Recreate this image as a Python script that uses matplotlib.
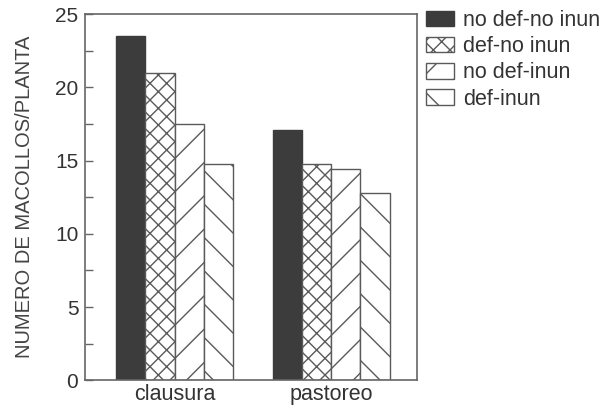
import matplotlib.pyplot as plt
import numpy as np

# datos
grupos = ['clausura', 'pastoreo']
tratamientos = ['no def-no inun', 'def-no inun', 'no def-inun', 'def-inun']
valores = [
    [23.5, 17.1],
    [21.0, 14.8],
    [17.5, 14.4],
    [14.8, 12.8],
]
rellenos = ['', 'xx', '/', '\\']
colores = ['#3c3c3c', 'white', 'white', 'white']

plt.rcParams['font.family'] = ['Liberation Sans', 'DejaVu Sans']
plt.rcParams['hatch.color'] = '#5a5a5a'
plt.rcParams['hatch.linewidth'] = 1.0

fig = plt.figure(figsize=(6.05, 4.08), dpi=100)
ax = fig.add_axes([0.141, 0.068, 0.549, 0.897])

x = np.arange(len(grupos))
ancho = 0.186
for i, (nombre, vals) in enumerate(zip(tratamientos, valores)):
    ax.bar(x + (i - 1.5) * ancho, vals, ancho, color=colores[i],
           edgecolor='#5a5a5a' if i else '#3c3c3c', linewidth=1.0,
           hatch=rellenos[i], label=nombre)

ax.set_xlim(-0.57, 1.55)
ax.set_ylim(0, 25)
ax.set_xticks(x)
ax.set_xticklabels(grupos, fontsize=15.5, color='#333333')
ax.tick_params(axis='x', length=0, pad=3)
ax.set_yticks(np.arange(0, 26, 5))
ax.set_yticks(np.arange(0, 25, 2.5), minor=True)
ax.tick_params(axis='y', which='both', direction='in', length=6,
               width=1, color='#666666', labelsize=15, labelcolor='#333333', pad=5)
for s in ax.spines.values():
    s.set_color('#666666')
    s.set_linewidth(1.2)
ax.set_ylabel('NUMERO DE MACOLLOS/PLANTA', fontsize=14.5, color='#444444', labelpad=15)

ax.legend(loc='upper left', bbox_to_anchor=(1.0, 1.035), frameon=False,
          fontsize=15.5, handlelength=1.3, handleheight=0.72, handletextpad=0.4,
          labelspacing=0.24, borderaxespad=0.0, labelcolor='#333333')

fig.savefig('out.png', dpi=100)
